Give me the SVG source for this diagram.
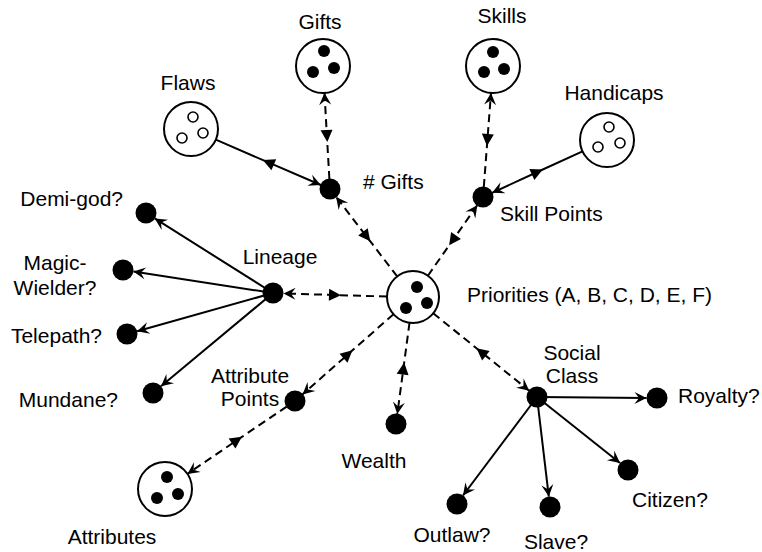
<svg xmlns="http://www.w3.org/2000/svg" width="762" height="552" viewBox="0 0 762 552">
<style>
text{font-family:"Liberation Sans",Arial,sans-serif;font-size:21px;fill:#000}
.big{fill:#fff;stroke:#000;stroke-width:2}
.dot{fill:#000}
.hol{fill:#fff;stroke:#000;stroke-width:1.6}
.solid{fill:none;stroke:#000;stroke-width:2}
.dash{fill:none;stroke:#000;stroke-width:2;stroke-dasharray:8 5}
</style>
<defs>
<marker id="arr" markerUnits="userSpaceOnUse" markerWidth="26" markerHeight="26" viewBox="-13 -13 26 26" refX="0" refY="0" orient="auto">
<path d="M0,0 L-12,-6 L-7.5,0 L-12,6 Z" fill="#000"/>
</marker>
<marker id="tri" markerUnits="userSpaceOnUse" markerWidth="26" markerHeight="26" viewBox="-13 -13 26 26" refX="0" refY="0" orient="auto">
<path d="M-6,0 L6,-6 L6,6 Z" fill="#000"/>
</marker>
</defs>
<rect width="762" height="552" fill="#fff"/>
<g id="connectors">
<path class="dash" d="M329.4,179 L326.9,136 L324.5,92.9" marker-mid="url(#tri)" marker-end="url(#arr)"/>
<path class="solid" d="M215.8,139.7 L268.3,162.4 L320.8,185" marker-mid="url(#tri)" marker-end="url(#arr)"/>
<path class="dash" d="M397.2,276.4 L366.6,236.6 L336.1,196.9" marker-mid="url(#tri)" marker-end="url(#arr)"/>
<path class="dash" d="M387,296.5 L335,295 L283.5,293.5" marker-mid="url(#tri)" marker-end="url(#arr)"/>
<path class="dash" d="M427.9,275.7 L452.6,240.4 L477.3,205.2" marker-mid="url(#tri)" marker-end="url(#arr)"/>
<path class="dash" d="M483.8,187 L487.4,140 L491,92.9" marker-mid="url(#tri)" marker-end="url(#arr)"/>
<path class="solid" d="M582.5,151.3 L537.3,172 L492.1,192.8" marker-mid="url(#tri)" marker-end="url(#arr)"/>
<path class="dash" d="M393.5,314.2 L348,354.3 L302.5,394.4" marker-mid="url(#tri)" marker-end="url(#arr)"/>
<path class="dash" d="M286.7,406.6 L237,440.2 L187.4,473.9" marker-mid="url(#tri)" marker-end="url(#arr)"/>
<path class="dash" d="M409.5,322.8 L403.4,368.5 L397.3,414.1" marker-mid="url(#tri)" marker-end="url(#arr)"/>
<path class="dash" d="M433.2,313.3 L481.2,352 L529.2,390.7" marker-mid="url(#tri)" marker-end="url(#arr)"/>
<path class="solid" d="M537,397 L646.5,398" marker-end="url(#arr)"/>
<path class="solid" d="M537,397 L463,495.5" marker-end="url(#arr)"/>
<path class="solid" d="M537,397 L548.8,496.6" marker-end="url(#arr)"/>
<path class="solid" d="M537,397 L620,463" marker-end="url(#arr)"/>
<path class="solid" d="M273,293 L154.7,218.4" marker-end="url(#arr)"/>
<path class="solid" d="M273,293 L133.4,271.6" marker-end="url(#arr)"/>
<path class="solid" d="M273,293 L137.1,331.2" marker-end="url(#arr)"/>
<path class="solid" d="M273,293 L161,386.3" marker-end="url(#arr)"/>
</g>
<g id="priorities">
<circle class="big" cx="413" cy="297" r="26"/>
<circle class="dot" cx="417" cy="287" r="6"/>
<circle class="dot" cx="406" cy="308" r="6"/>
<circle class="dot" cx="427" cy="303" r="6"/>
<text x="467" y="302">Priorities (A, B, C, D, E, F)</text>
</g>
<g id="gifts">
<circle class="big" cx="323" cy="66" r="27"/>
<circle class="dot" cx="324" cy="51" r="6"/>
<circle class="dot" cx="313" cy="72" r="6"/>
<circle class="dot" cx="334" cy="68" r="6"/>
<text x="320" y="29" text-anchor="middle">Gifts</text>
</g>
<g id="flaws">
<circle class="big" cx="191" cy="129" r="27"/>
<circle class="hol" cx="193" cy="117" r="5"/>
<circle class="hol" cx="182" cy="138" r="5"/>
<circle class="hol" cx="203" cy="133" r="5"/>
<text x="188" y="90" text-anchor="middle">Flaws</text>
</g>
<g id="num-gifts">
<circle class="dot" cx="330" cy="189" r="10.5"/>
<text x="363" y="189"># Gifts</text>
</g>
<g id="skills">
<circle class="big" cx="493" cy="66" r="27"/>
<circle class="dot" cx="493" cy="52" r="6"/>
<circle class="dot" cx="484" cy="72" r="6"/>
<circle class="dot" cx="504" cy="69" r="6"/>
<text x="502" y="23" text-anchor="middle">Skills</text>
</g>
<g id="handicaps">
<circle class="big" cx="607" cy="140" r="27"/>
<circle class="hol" cx="609" cy="127" r="5"/>
<circle class="hol" cx="598" cy="147" r="5"/>
<circle class="hol" cx="620" cy="143" r="5"/>
<text x="614" y="100" text-anchor="middle">Handicaps</text>
</g>
<g id="skill-points">
<circle class="dot" cx="483" cy="197" r="10.5"/>
<text x="500" y="221">Skill Points</text>
</g>
<g id="lineage">
<circle class="dot" cx="273" cy="293" r="10.5"/>
<text x="280" y="264" text-anchor="middle">Lineage</text>
</g>
<g id="demi-god">
<circle class="dot" cx="146" cy="213" r="10.5"/>
<text x="123" y="206" text-anchor="end">Demi-god?</text>
</g>
<g id="magic-wielder">
<circle class="dot" cx="123" cy="270" r="10.5"/>
<text x="55" y="270" text-anchor="middle">Magic-</text>
<text x="55" y="295" text-anchor="middle">Wielder?</text>
</g>
<g id="telepath">
<circle class="dot" cx="127" cy="334" r="10.5"/>
<text x="102" y="343" text-anchor="end">Telepath?</text>
</g>
<g id="mundane">
<circle class="dot" cx="153" cy="393" r="10.5"/>
<text x="118" y="407" text-anchor="end">Mundane?</text>
</g>
<g id="attribute-points">
<circle class="dot" cx="295" cy="401" r="10.5"/>
<text x="250" y="383" text-anchor="middle">Attribute</text>
<text x="250" y="406" text-anchor="middle">Points</text>
</g>
<g id="attributes">
<circle class="big" cx="165" cy="489" r="27"/>
<circle class="dot" cx="167" cy="477" r="6"/>
<circle class="dot" cx="157" cy="498" r="6"/>
<circle class="dot" cx="178" cy="494" r="6"/>
<text x="112" y="544" text-anchor="middle">Attributes</text>
</g>
<g id="wealth">
<circle class="dot" cx="396" cy="424" r="10.5"/>
<text x="374" y="468" text-anchor="middle">Wealth</text>
</g>
<g id="social-class">
<circle class="dot" cx="537" cy="397" r="10.5"/>
<text x="572" y="360" text-anchor="middle">Social</text>
<text x="572" y="383" text-anchor="middle">Class</text>
</g>
<g id="royalty">
<circle class="dot" cx="657" cy="398" r="10.5"/>
<text x="678" y="403">Royalty?</text>
</g>
<g id="outlaw">
<circle class="dot" cx="457" cy="504" r="10.5"/>
<text x="452" y="542" text-anchor="middle">Outlaw?</text>
</g>
<g id="slave">
<circle class="dot" cx="550" cy="507" r="10.5"/>
<text x="556" y="549" text-anchor="middle">Slave?</text>
</g>
<g id="citizen">
<circle class="dot" cx="628" cy="470" r="10.5"/>
<text x="632" y="507">Citizen?</text>
</g>
</svg>
